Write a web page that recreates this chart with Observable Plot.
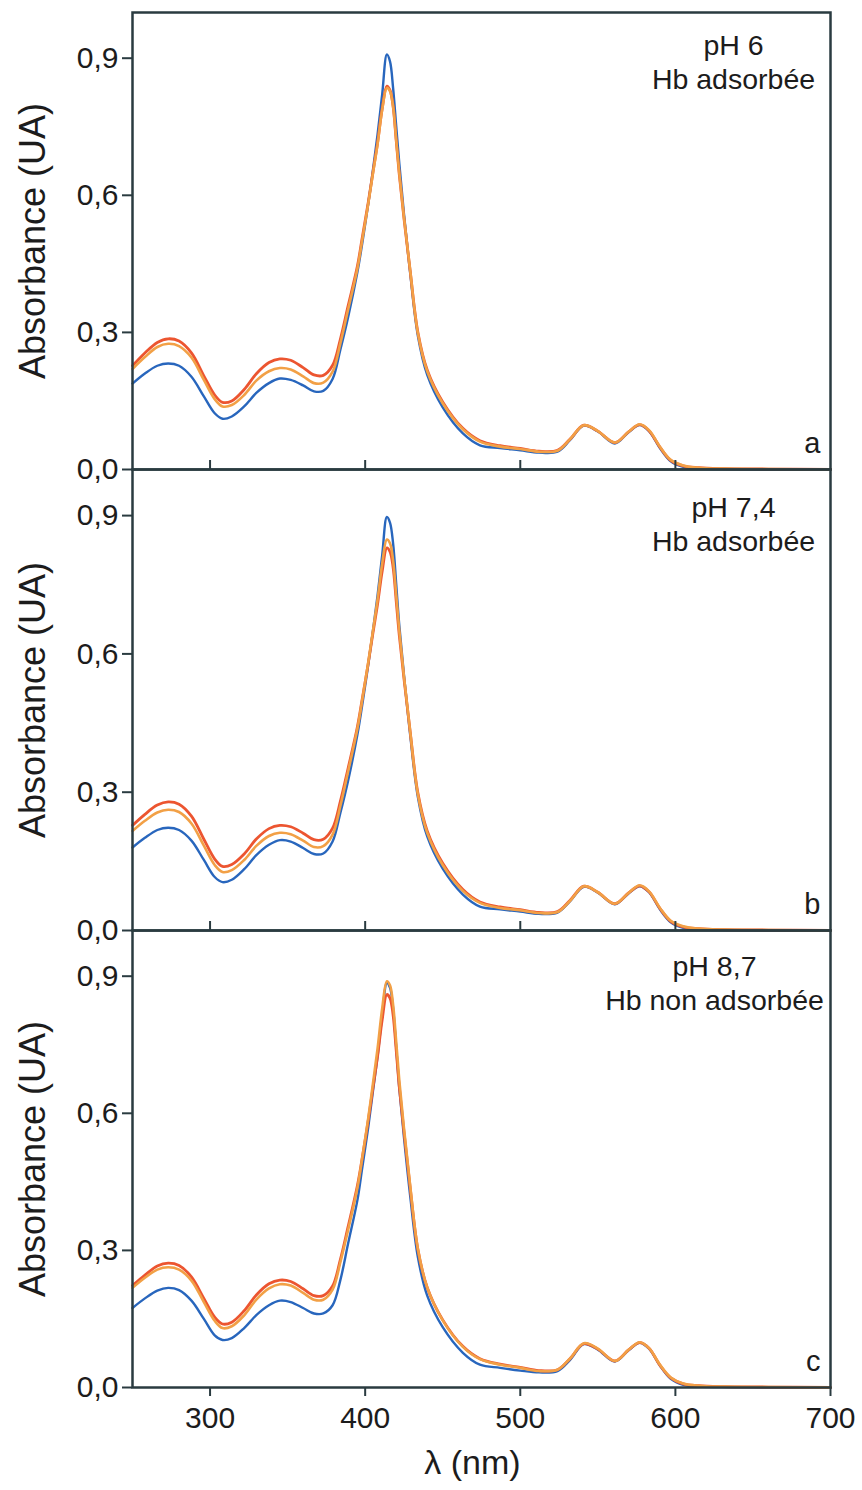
<!DOCTYPE html>
<html>
<head>
<meta charset="utf-8">
<script src="https://cdn.jsdelivr.net/npm/d3@7"></script>
<script src="https://cdn.jsdelivr.net/npm/@observablehq/plot@0.6"></script>
<style>
  html, body { margin: 0; padding: 0; background: #fff; }
  #chart { position: relative; width: 862px; height: 1490px; background: #fff; }
</style>
</head>
<body>
<div id="chart"></div>
<script>
// Wavelength grid (nm)
const wavelengths = [250,258,266,273,280,288,296,303,308,314,322,330,338,345,352,360,367,373,379,384,389,395,398,402,405,408,411,414,416,418,420,422,425,429,434,440,450,463,474,487,500,512,524,532,541,550,561,570,577,583,590,597,605,615,630,660,700];

// Panel a : pH 6
const aBlue = [.188,.210,.227,.232,.227,.203,.160,.123,.111,.116,.138,.168,.189,.199,.196,.184,.171,.172,.198,.262,.333,.432,.492,.582,.655,.733,.822,.908,.893,.835,.752,.670,.560,.430,.292,.207,.136,.079,.053,.047,.042,.037,.039,.064,.096,.083,.057,.082,.097,.084,.047,.018,.006,.002,.001,0,0];
const aRed = [.227,.255,.278,.286,.281,.255,.205,.163,.147,.150,.175,.210,.234,.242,.239,.223,.207,.206,.228,.285,.358,.445,.505,.585,.650,.715,.790,.839,.830,.795,.720,.645,.550,.435,.300,.218,.148,.090,.063,.052,.046,.040,.042,.066,.097,.084,.059,.083,.098,.085,.049,.020,.008,.004,.002,.001,0];
const aOrange = [.220,.246,.268,.275,.270,.245,.196,.154,.138,.141,.163,.195,.215,.222,.219,.204,.189,.190,.214,.276,.350,.440,.500,.582,.648,.712,.788,.835,.828,.795,.722,.648,.552,.436,.298,.215,.145,.088,.061,.050,.045,.039,.041,.066,.097,.084,.059,.083,.099,.086,.050,.021,.009,.004,.002,.001,0];

// Panel b : pH 7,4
const bBlue = [.180,.201,.218,.223,.218,.195,.153,.116,.105,.110,.133,.164,.186,.196,.193,.179,.166,.167,.193,.255,.325,.425,.487,.577,.650,.727,.815,.897,.885,.840,.752,.662,.555,.425,.289,.204,.134,.078,.052,.046,.041,.036,.039,.063,.095,.082,.057,.081,.096,.083,.046,.018,.006,.002,.001,0,0];
const bRed = [.228,.252,.272,.279,.274,.248,.198,.155,.139,.143,.166,.199,.221,.228,.225,.211,.197,.198,.222,.280,.352,.442,.500,.580,.645,.708,.780,.830,.822,.788,.715,.640,.547,.432,.298,.216,.146,.089,.062,.051,.045,.039,.041,.065,.096,.083,.058,.082,.097,.084,.048,.020,.008,.004,.002,.001,0];
const bOrange = [.216,.238,.256,.262,.257,.232,.184,.142,.127,.131,.153,.184,.205,.212,.209,.195,.181,.183,.208,.270,.345,.438,.498,.582,.650,.718,.796,.848,.840,.803,.728,.650,.551,.432,.295,.212,.142,.086,.060,.049,.044,.038,.040,.064,.096,.083,.058,.082,.098,.085,.049,.021,.009,.004,.002,.001,0];

// Panel c : pH 8,7
const cBlue = [.174,.195,.212,.218,.213,.190,.150,.114,.104,.108,.130,.159,.180,.190,.187,.174,.162,.162,.180,.235,.315,.410,.478,.570,.648,.725,.815,.885,.875,.830,.745,.655,.548,.420,.285,.201,.132,.076,.050,.043,.037,.033,.036,.060,.095,.083,.057,.082,.098,.085,.048,.019,.006,.002,.001,0,0];
const cRed = [.223,.246,.266,.272,.267,.242,.195,.154,.139,.143,.168,.203,.227,.235,.232,.216,.201,.201,.222,.280,.352,.442,.500,.585,.655,.725,.805,.860,.852,.815,.738,.658,.560,.438,.302,.219,.148,.090,.063,.051,.044,.037,.039,.063,.096,.084,.058,.083,.098,.086,.049,.021,.008,.004,.002,.001,0];
const cOrange = [.218,.240,.258,.263,.258,.234,.187,.146,.130,.134,.158,.193,.217,.226,.223,.207,.192,.192,.214,.274,.345,.437,.500,.590,.665,.742,.830,.889,.880,.838,.757,.672,.568,.442,.303,.219,.147,.089,.062,.050,.043,.036,.039,.063,.097,.085,.058,.083,.099,.086,.050,.022,.009,.004,.002,.001,0];

const yTicks = [0, 0.3, 0.6, 0.9];
const xTicks = [300, 400, 500, 600, 700];
const panelTitles = [["pH 6", "Hb adsorbée"], ["pH 7,4", "Hb adsorbée"], ["pH 8,7", "Hb non adsorbée"]];
const panelLetters = ["a", "b", "c"];
const yLabel = "Absorbance (UA)";
const xLabel = "λ (nm)";

const colors = {blue: "#2866bd", red: "#ec5530", orange: "#f2a046"};
const ink = "#1c1c1c";
const frameColor = "#2a3b40";
const font = "'Liberation Sans', Arial, Helvetica, sans-serif";

const panels = [
  {series: [aBlue, aRed, aOrange], top: 0,   inner: 457, bottom: 2,   last: false, dxTitle: -97, dyTitle: 19},
  {series: [bBlue, bRed, bOrange], top: 457, inner: 461, bottom: 2,   last: false, dxTitle: -97, dyTitle: 24},
  {series: [cBlue, cRed, cOrange], top: 918, inner: 457, bottom: 103, last: true,  dxTitle: -116, dyTitle: 22}
];

const fmt = d => d.toFixed(1).replace(".", ",");
const chart = document.getElementById("chart");

panels.forEach((p, k) => {
  const marginTop = 12;
  const [sb, sr, so] = p.series;
  const rows = s => wavelengths.map((w, i) => ({w, a: s[i]}));
  const marks = [
    Plot.line(rows(sb), {x: "w", y: "a", stroke: colors.blue, strokeWidth: 2.4, curve: "catmull-rom"}),
    Plot.line(rows(sr), {x: "w", y: "a", stroke: colors.red, strokeWidth: 2.8, curve: "catmull-rom"}),
    Plot.line(rows(so), {x: "w", y: "a", stroke: colors.orange, strokeWidth: 2.6, curve: "catmull-rom"}),
    Plot.axisY(yTicks, {tickFormat: fmt, tickSize: 10, tickPadding: 4, fontSize: 30, label: null, stroke: frameColor, strokeWidth: 2, fill: ink}),
    Plot.text([yLabel], {text: d => d, frameAnchor: "left", textAnchor: "middle", lineAnchor: "middle", rotate: -90, dx: -99, fontSize: 36, fill: ink}),
    Plot.text([panelTitles[k].join("\n")], {text: d => d, frameAnchor: "top-right", dx: p.dxTitle, dy: p.dyTitle, textAnchor: "middle", lineAnchor: "top", lineHeight: 1.17, fontSize: 28.5, fill: ink}),
    Plot.text([panelLetters[k]], {text: d => d, frameAnchor: "bottom-right", dx: -10, dy: -17, textAnchor: "end", lineAnchor: "bottom", fontSize: 29, fill: ink})
  ];
  if (p.last) {
    marks.push(Plot.axisX(xTicks, {tickSize: 9, tickPadding: 10, fontSize: 30, label: null, stroke: frameColor, strokeWidth: 2, fill: ink}));
    marks.push(Plot.text([xLabel], {text: d => d, frameAnchor: "bottom", textAnchor: "middle", dx: -9, dy: 86, fontSize: 34, fill: ink}));
  } else {
    marks.push(Plot.tickX(xTicks.slice(0, 4), {x: d => d, insetTop: p.inner - 9, stroke: frameColor, strokeWidth: 2}));
  }
  marks.push(Plot.frame({stroke: frameColor, strokeWidth: 2.5}));

  const svg = Plot.plot({
    width: 862,
    height: marginTop + p.inner + p.bottom,
    marginTop,
    marginBottom: p.bottom,
    marginLeft: 132,
    marginRight: 32,
    x: {domain: [250, 700], axis: null},
    y: {domain: [0, 1.0], axis: null},
    style: {fontFamily: font, color: ink, background: "transparent", overflow: "visible", position: "absolute", top: p.top + "px", left: "0px"},
    marks
  });
  chart.appendChild(svg);
});
</script>
</body>
</html>
